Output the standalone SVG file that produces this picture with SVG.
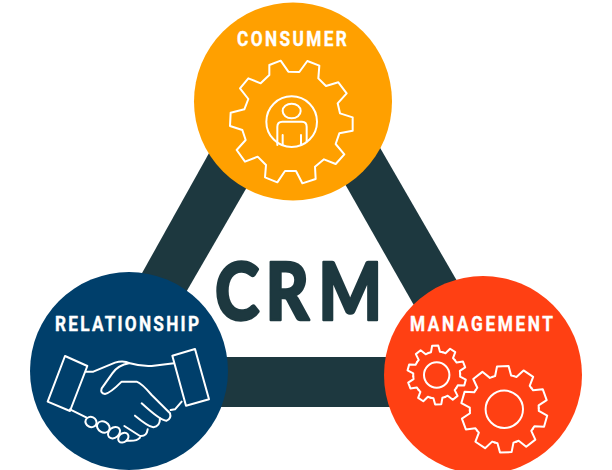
<svg xmlns="http://www.w3.org/2000/svg" xmlns:xlink="http://www.w3.org/1999/xlink" width="612" height="470" viewBox="0 0 612 470">
<style>
.bar{fill:#1d383f}
.lbl{font-family:"Roboto","Liberation Sans",sans-serif;font-weight:700;font-size:21px;fill:#fff;stroke:#fff;stroke-width:.4;stroke-linejoin:round}
.ln{fill:none;stroke:#fff;stroke-width:6;stroke-linejoin:round;stroke-linecap:round}
.ln2{fill:none;stroke:#fff;stroke-width:2;stroke-linejoin:round;stroke-linecap:round}
.crm{font-family:"Lato","Liberation Sans",sans-serif;font-weight:900;font-size:80px;fill:#1d383f;stroke:#1d383f;stroke-width:2.5;stroke-linejoin:round}
</style>
<defs>
<path id="t1" d="M-7.26-22.35L-4.48-23.07L-3.08-29.34L3.08-29.34L4.48-23.07L7.26-22.35"/>
<path id="t2" d="M-10.66-32.8L-8-33.6L-5.8-43L5.8-43L8-33.6L10.66-32.8"/>
</defs>
<rect width="612" height="470" fill="#fff"/>
<g id="connectors">
<polygon class="bar" points="227.5,120 280,130 170,320 127,300"/>
<polygon class="bar" points="364,120 320,140 428,330 468,300"/>
<rect class="bar" x="150" y="357" width="310" height="50"/>
</g>
<g id="consumer">
<circle cx="293" cy="101.5" r="99" fill="#ffa000"/>
<text class="lbl" transform="translate(237 46) scale(.82 1)" textLength="134" lengthAdjust="spacing">CONSUMER</text>
<g transform="translate(190 0) scale(.33333)">
<polygon class="ln" points="238,195 272,182 295,215 328,216 352,183 388,197 385,235 408,258 445,247 470,280 443,310 450,340 488,352 488,392 448,400 437,432 463,463 437,492 402,478 375,500 377,537 337,550 318,513 285,513 262,547 225,532 228,495 203,470 165,485 140,450 167,420 157,390 120,378 122,338 163,328 175,297 150,265 175,235 212,250 238,225"/>
<circle class="ln" cx="305" cy="365" r="76"/>
<ellipse class="ln" cx="305" cy="333" rx="27" ry="22"/>
<path class="ln" d="M262 435V380Q262 365 277 365H336Q350 365 350 380V425M278 405V434M333 405V434"/>
</g>
</g>
<g id="relationship">
<circle cx="129" cy="371" r="99" fill="#003f6b"/>
<text class="lbl" transform="translate(55 331) scale(.82 1)" textLength="175.6" lengthAdjust="spacing">RELATIONSHIP</text>
<g transform="translate(25 270) scale(.33333)">
<polygon class="ln" points="120,258 187,288 135,423 68,395"/>
<polygon class="ln" points="442,257 510,237 552,388 483,407"/>
<path class="ln" d="M183 305H205L270 278Q295 270 315 280Q350 290 380 288L447 280"/>
<path class="ln" d="M312 280Q280 285 262 310L230 355Q225 370 240 372Q255 370 290 335L335 335Q350 340 380 375L435 430Q440 445 425 452Q410 455 350 400"/>
<path class="ln" d="M437 420L450 418L470 395"/>
<path class="ln" d="M405 445Q405 470 385 472Q370 470 330 437"/>
<path class="ln" d="M368 478Q365 500 345 498L298 468"/>
<path class="ln" d="M135 418L185 443"/>
<path class="ln" d="M305 512Q335 515 345 503"/>
<ellipse class="ln" cx="198" cy="456" rx="17" ry="15" transform="rotate(25 198 456)"/>
<ellipse class="ln" cx="235" cy="471" rx="20" ry="16" transform="rotate(30 235 471)"/>
<ellipse class="ln" cx="267" cy="488" rx="20" ry="15" transform="rotate(-40 267 488)"/>
<ellipse class="ln" cx="295" cy="503" rx="17" ry="13" transform="rotate(-40 295 503)"/>
</g>
</g>
<g id="management">
<circle cx="483" cy="375" r="99" fill="#ff4013"/>
<text class="lbl" transform="translate(410 331) scale(.82 1)" textLength="174.4" lengthAdjust="spacing">MANAGEMENT</text>
<g class="ln2" transform="translate(436.7 375)">
<circle r="12.7"/>
<use xlink:href="#t1" href="#t1" transform="rotate(-3)"/><use xlink:href="#t1" href="#t1" transform="rotate(33)"/><use xlink:href="#t1" href="#t1" transform="rotate(69)"/><use xlink:href="#t1" href="#t1" transform="rotate(105)"/><use xlink:href="#t1" href="#t1" transform="rotate(141)"/><use xlink:href="#t1" href="#t1" transform="rotate(177)"/><use xlink:href="#t1" href="#t1" transform="rotate(213)"/><use xlink:href="#t1" href="#t1" transform="rotate(249)"/><use xlink:href="#t1" href="#t1" transform="rotate(285)"/><use xlink:href="#t1" href="#t1" transform="rotate(321)"/>
</g>
<g class="ln2" transform="translate(504.3 409.3)">
<circle r="18.7"/>
<use xlink:href="#t2" href="#t2" transform="rotate(-2)"/><use xlink:href="#t2" href="#t2" transform="rotate(34)"/><use xlink:href="#t2" href="#t2" transform="rotate(70)"/><use xlink:href="#t2" href="#t2" transform="rotate(106)"/><use xlink:href="#t2" href="#t2" transform="rotate(142)"/><use xlink:href="#t2" href="#t2" transform="rotate(178)"/><use xlink:href="#t2" href="#t2" transform="rotate(214)"/><use xlink:href="#t2" href="#t2" transform="rotate(250)"/><use xlink:href="#t2" href="#t2" transform="rotate(286)"/><use xlink:href="#t2" href="#t2" transform="rotate(322)"/>
</g>
</g>
<text id="crm" class="crm" transform="translate(0 320) scale(.84 1)" x="256 316 379">CRM</text>
</svg>
